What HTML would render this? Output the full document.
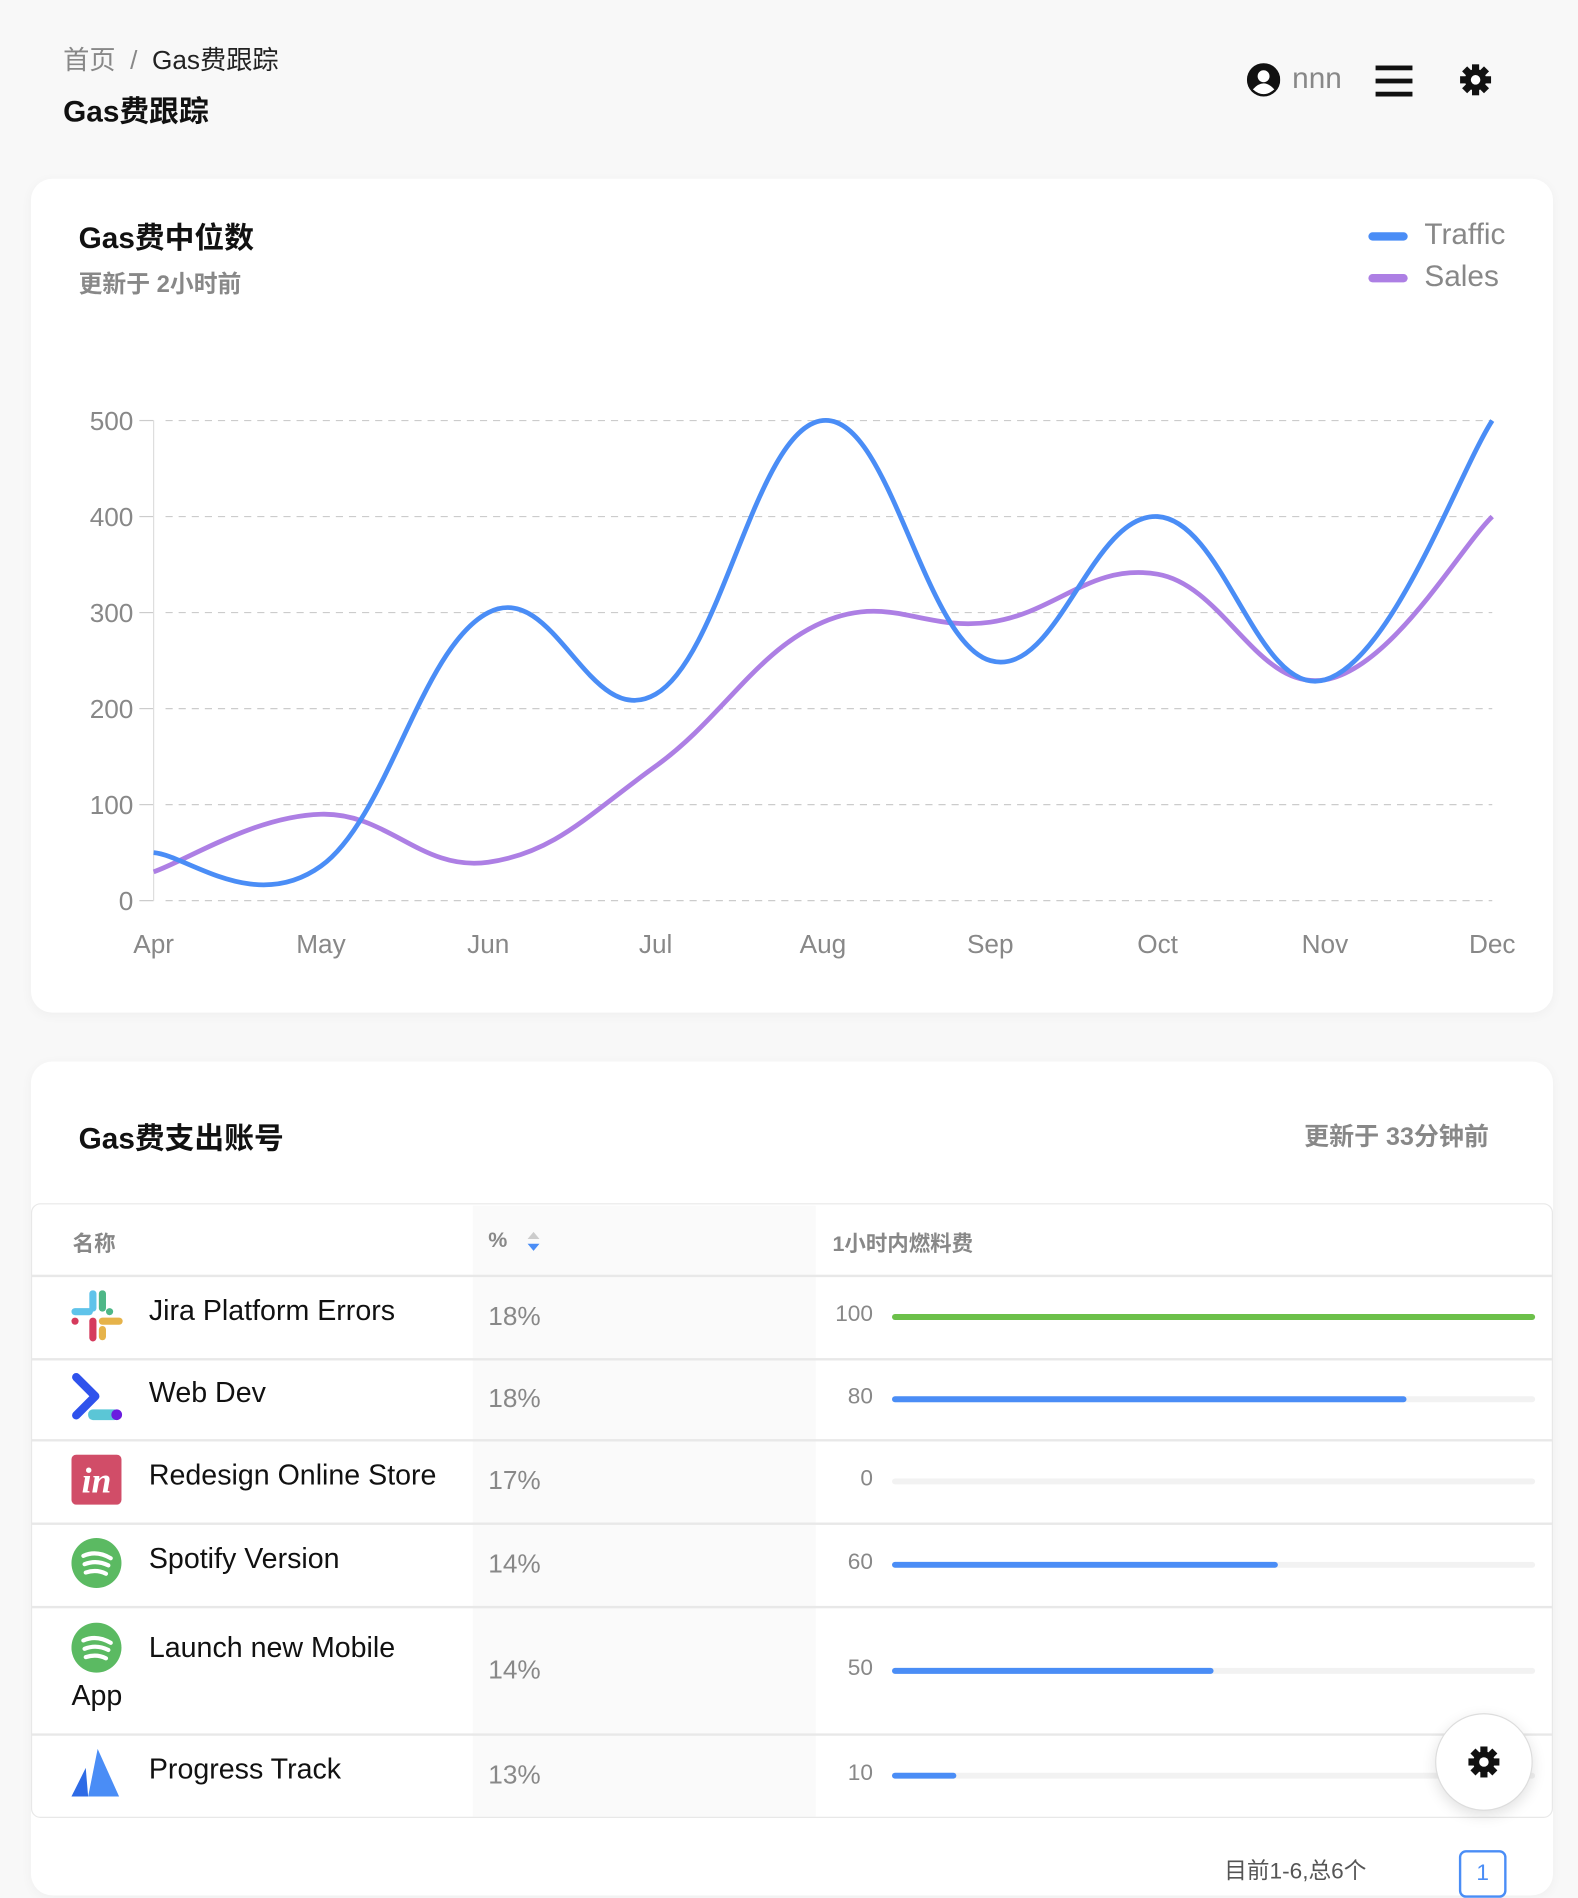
<!DOCTYPE html>
<html><head><meta charset="utf-8">
<style>
html,body{margin:0;padding:0;width:1578px;height:1868px;overflow:hidden;background:#f8f8f8;}
#w{position:absolute;left:0;top:0;width:1325px;height:1568px;transform:scale(1.19094,1.19133);transform-origin:0 0;font-family:"Liberation Sans","Noto Sans CJK SC",sans-serif;color:#111;}
.abs{position:absolute;}
.card{position:absolute;background:#fff;border-radius:18px;box-shadow:0 2px 10px rgba(0,0,0,0.04);}
.row{position:absolute;left:26px;width:1278px;border-top:2px solid #e8e8e8;}
.name{position:absolute;left:125px;font-size:24px;color:#111;}
.pct{position:absolute;left:410px;font-size:22px;color:#888;}
.num{position:absolute;font-size:19px;color:#888;width:50px;text-align:right;left:683px;}
.track{position:absolute;left:749px;width:540px;height:5px;background:#f2f2f2;border-radius:3px;}
.fill{height:5px;border-radius:3px;background:#4a8df6;}
</style></head><body>
<div id="w">
<div class="abs" style="left:53px;top:33px;font-size:22px;color:#888;"><span>首页</span>&nbsp; / &nbsp;<span style="color:#222">Gas费跟踪</span></div>
<div class="abs" style="left:53px;top:74px;font-size:25px;font-weight:bold;">Gas费跟踪</div>
<div class="abs" style="left:1047px;top:52px;font-size:25px;color:#888;display:flex;align-items:center;">
<svg width="28" height="28" viewBox="0 0 28 28"><circle cx="14" cy="14" r="14" fill="#111"/><circle cx="14" cy="11" r="5" fill="#fff"/><path d="M5 22 Q14 12 23 22 Q14 30 5 22Z" fill="#fff"/></svg><span style="margin-left:10px;">nnn</span></div>
<svg class="abs" style="left:1155px;top:53px" width="32" height="30"><rect x="0" y="2" width="31" height="4" fill="#111"/><rect x="0" y="13" width="31" height="4" fill="#111"/><rect x="0" y="24" width="31" height="4" fill="#111"/></svg>
<svg class="abs" style="left:1225px;top:53px" width="28" height="28" viewBox="-14 -14 28 28"><g fill="#111"><circle r="9"/><g id="t"><rect x="-3" y="-13" width="6" height="6"/></g><use href="#t" transform="rotate(45)"/><use href="#t" transform="rotate(90)"/><use href="#t" transform="rotate(135)"/><use href="#t" transform="rotate(180)"/><use href="#t" transform="rotate(225)"/><use href="#t" transform="rotate(270)"/><use href="#t" transform="rotate(315)"/></g><circle r="4" fill="#fff"/></svg>

<div class="card" style="left:26px;top:150px;width:1278px;height:700px;"></div>
<div class="abs" style="left:66px;top:180px;font-size:25px;font-weight:bold;">Gas费中位数</div>
<div class="abs" style="left:66px;top:222px;font-size:20px;color:#888;font-weight:bold;">更新于 2小时前</div>
<div class="abs" style="left:1149px;top:183px;font-size:25px;color:#888;"><span style="display:inline-block;width:33px;height:7px;border-radius:4px;background:#4a8df6;vertical-align:middle;margin-right:14px;"></span>Traffic</div>
<div class="abs" style="left:1149px;top:218px;font-size:25px;color:#888;"><span style="display:inline-block;width:33px;height:7px;border-radius:4px;background:#ad7fe4;vertical-align:middle;margin-right:14px;"></span>Sales</div>
<svg class="abs" id="chart" style="left:0;top:0" width="1325" height="850"></svg>

<div class="card" style="left:26px;top:891px;width:1278px;height:700px;"></div>
<div class="abs" style="left:66px;top:936px;font-size:25px;font-weight:bold;">Gas费支出账号</div>
<div class="abs" style="left:1095px;top:938px;font-size:21px;color:#888;font-weight:bold;">更新于 33分钟前</div>
<div class="abs" style="left:397px;top:1012px;width:288px;height:513px;background:#fafafa;"></div>
<div class="abs" style="left:26px;top:1010px;width:1276px;height:514px;border:1px solid #e8e8e8;border-radius:8px;"></div>
<div class="abs" style="left:61px;top:1030px;font-size:18px;color:#888;font-weight:bold;">名称</div>
<div class="abs" style="left:410px;top:1030px;font-size:18px;color:#888;font-weight:bold;">% <svg width="14" height="24" style="vertical-align:middle;margin-left:10px"><path d="M2 10 L7 4 L12 10Z" fill="#ccc"/><path d="M2 14 L7 20 L12 14Z" fill="#4a8df6"/></svg></div>
<div class="abs" style="left:699px;top:1030px;font-size:18px;color:#888;font-weight:bold;">1小时内燃料费</div>
<div id="rows"></div>

<div class="abs" style="left:1205px;top:1438px;width:80px;height:80px;border-radius:50%;background:#fff;border:1px solid #ddd;box-shadow:0 4px 12px rgba(0,0,0,0.12);display:flex;align-items:center;justify-content:center;">
<svg width="28" height="28" viewBox="-14 -14 28 28"><g fill="#111"><circle r="9"/><use href="#t"/><use href="#t" transform="rotate(45)"/><use href="#t" transform="rotate(90)"/><use href="#t" transform="rotate(135)"/><use href="#t" transform="rotate(180)"/><use href="#t" transform="rotate(225)"/><use href="#t" transform="rotate(270)"/><use href="#t" transform="rotate(315)"/></g><circle r="4" fill="#fff"/></svg></div>
<div class="abs" style="left:1028px;top:1556px;font-size:19px;color:#555;">目前1-6,总6个</div>
<div class="abs" style="left:1225px;top:1553px;width:36px;height:36px;border:2px solid #4a8df6;border-radius:6px;color:#4a8df6;text-align:center;font-size:19px;line-height:36px;">1</div>
</div>
<script>
const months=['Apr','May','Jun','Jul','Aug','Sep','Oct','Nov','Dec'];
const traffic=[50,36,300,215,500,250,400,230,500];
const sales=[30,90,40,140,290,290,340,230,400];
const yTicks=[0,100,200,300,400,500];
const rowNames=['Jira Platform Errors','Web Dev','Redesign Online Store','Spotify Version','Launch new Mobile App','Progress Track'];
const rowPct=['18%','18%','17%','14%','14%','13%'];
const rowFee=[100,80,0,60,50,10];

const NS='http://www.w3.org/2000/svg';
const svg=document.getElementById('chart');
const X0=129,X1=1253,Y0=756,Y1=353;
const xs=i=>X0+(X1-X0)*i/(months.length-1);
const ys=v=>Y0-(Y0-Y1)*v/500;
function mk(t,a){const e=document.createElementNS(NS,t);for(const k in a)e.setAttribute(k,a[k]);svg.appendChild(e);return e;}
yTicks.forEach(v=>{
 const l=mk('line',{x1:X0+10,x2:X1,y1:ys(v),y2:ys(v),stroke:'#ccc','stroke-dasharray':'6 5'});
 
 
 mk('line',{x1:X0-12,x2:X0,y1:ys(v),y2:ys(v),stroke:'#ccc'});
 const t=mk('text',{x:112,y:ys(v)+8,'text-anchor':'end','font-size':22,fill:'#888','font-family':'Liberation Sans, sans-serif'});
 t.textContent=v;
 
 
});
mk('line',{x1:X0,x2:X0,y1:Y1,y2:Y0,stroke:'#ddd'});
months.forEach((m,i)=>{
 const t=mk('text',{x:xs(i),y:800,'text-anchor':'middle','font-size':22,fill:'#888','font-family':'Liberation Sans, sans-serif'});
 t.textContent=m;
 
 
});
function path(vals){
 const p=vals.map((v,i)=>[xs(i),ys(v)]);
 let d='M'+p[0][0]+' '+p[0][1];const k=0.2;
 for(let i=0;i<p.length-1;i++){
  const a=p[i-1]||p[i],b=p[i],c=p[i+1],e=p[i+2]||c;
  d+=` C${b[0]+(c[0]-a[0])*k} ${b[1]+(c[1]-a[1])*k} ${c[0]-(e[0]-b[0])*k} ${c[1]-(e[1]-b[1])*k} ${c[0]} ${c[1]}`;
 }
 return d;
}
const ps=mk('path',{d:path(sales),fill:'none',stroke:'#ad7fe4','stroke-width':4});


const pt=mk('path',{d:path(traffic),fill:'none',stroke:'#4a8df6','stroke-width':4});



const tops=[1070,1140,1208,1278,1348,1455,1525];
const icons=[
 '<svg width="44" height="44" viewBox="0 0 44 44"><rect x="15" y="0" width="6" height="18" rx="3" fill="#5fc3ea"/><rect x="0" y="15" width="18" height="6" rx="3" fill="#5fc3ea"/><rect x="23" y="0" width="6" height="18" rx="3" fill="#4eb787"/><rect x="29" y="15" width="6" height="6" rx="3" fill="#4eb787"/><rect x="15" y="23" width="6" height="20" rx="3" fill="#d53a5c"/><rect x="0" y="23" width="6" height="6" rx="3" fill="#d53a5c"/><rect x="23" y="23" width="20" height="6" rx="3" fill="#e6b34a"/><rect x="23" y="30" width="6" height="12" rx="3" fill="#e6b34a"/></svg>',
 '<svg width="44" height="44" viewBox="0 0 44 44"><path d="M4 4 L20 20 L4 36" stroke="#2f52ec" stroke-width="7" fill="none" stroke-linecap="round" stroke-linejoin="round"/><rect x="14" y="31" width="26" height="9" rx="4" fill="#5bc6d6"/><circle cx="38" cy="35.5" r="4.5" fill="#6a1de0"/></svg>',
 '<svg width="44" height="44" viewBox="0 0 44 44"><rect width="42" height="42" rx="4" fill="#d14d68"/><text x="21" y="32" text-anchor="middle" font-size="30" font-style="italic" font-weight="bold" fill="#fff" font-family="Liberation Serif, serif">in</text></svg>',
 '<svg width="44" height="44" viewBox="0 0 44 44"><circle cx="21" cy="21" r="21" fill="#5bba62"/><path d="M10 15 Q21 10 33 17 M11 22 Q21 18 31 23 M12 29 Q21 26 29 30" stroke="#fff" stroke-width="3.5" fill="none" stroke-linecap="round"/></svg>',
 '<svg width="44" height="44" viewBox="0 0 44 44"><circle cx="21" cy="21" r="21" fill="#5bba62"/><path d="M10 15 Q21 10 33 17 M11 22 Q21 18 31 23 M12 29 Q21 26 29 30" stroke="#fff" stroke-width="3.5" fill="none" stroke-linecap="round"/></svg>',
 '<svg width="44" height="44" viewBox="0 0 44 44"><path d="M12 16 L0 40 L14 40Z" fill="#2e6be6"/><path d="M22 0 L14 40 L40 40Z" fill="#4a8df6"/></svg>'
];
const rows=document.getElementById('rows');
rowNames.forEach((n,i)=>{
 const t=tops[i],h=tops[i+1]-t,mid=t+h/2;
 const r=document.createElement('div');
 r.className='row';r.style.top=t+'px';r.style.height=h+'px';
 
 
 rows.appendChild(r);
 const ic=document.createElement('div');ic.className='abs';ic.innerHTML=icons[i];
 ic.style.left='60px';ic.style.top=(i==4?t+14:mid-22)+'px';
 
 
 rows.appendChild(ic);
 const nm=document.createElement('div');nm.className='name';
 if(i==4){nm.innerHTML='Launch new Mobile<br><span style="margin-left:-65px">App</span>';nm.style.top=(t+16)+'px';nm.style.lineHeight='40px';}
 else{nm.textContent=n;nm.style.top=(mid-18)+'px';}
 
 
 rows.appendChild(nm);
 const p=document.createElement('div');p.className='pct';p.textContent=rowPct[i];p.style.top=(mid-13)+'px';
 
 
 rows.appendChild(p);
 const nu=document.createElement('div');nu.className='num';nu.textContent=rowFee[i];nu.style.top=(mid-12)+'px';
 
 
 rows.appendChild(nu);
 const tr=document.createElement('div');tr.className='track';tr.style.top=(mid-2)+'px';
 
 
 const f=document.createElement('div');f.className='fill';f.style.width=rowFee[i]+'%';
 if(rowFee[i]>=100)f.style.background='#6cc04a';
 tr.appendChild(f);rows.appendChild(tr);
});
</script>
</body></html>
